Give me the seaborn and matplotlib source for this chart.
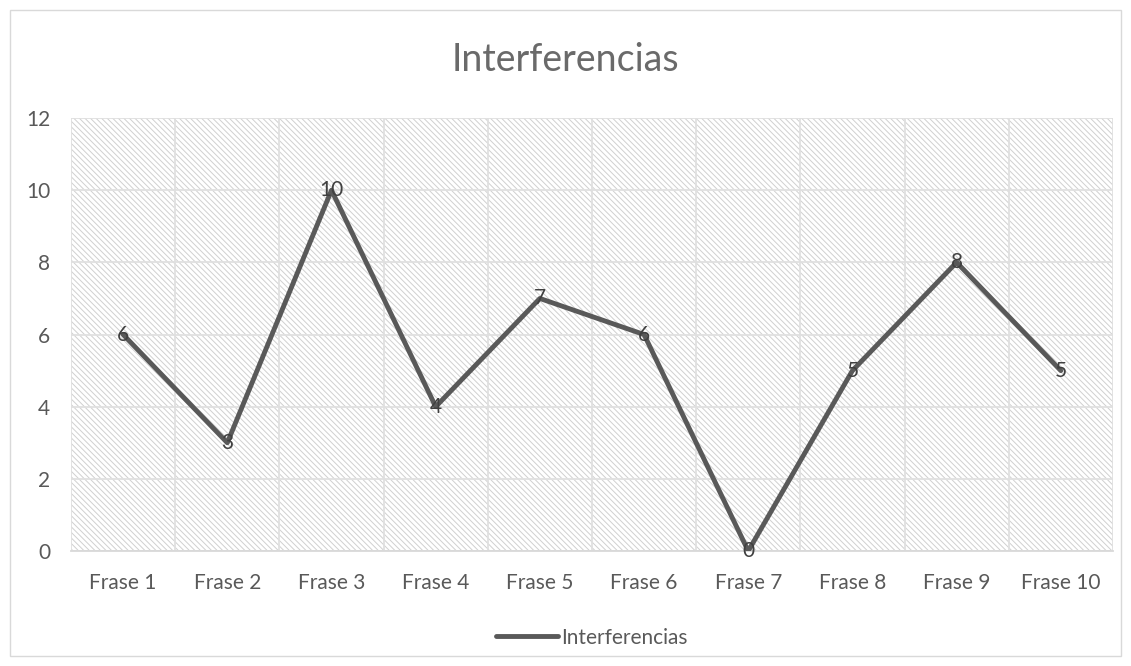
import matplotlib
matplotlib.use("Agg")
import matplotlib.pyplot as plt
import matplotlib.patches as mpatches
import seaborn as sns
import pandas as pd

categories = ["Frase 1", "Frase 2", "Frase 3", "Frase 4", "Frase 5",
              "Frase 6", "Frase 7", "Frase 8", "Frase 9", "Frase 10"]
values = [6, 3, 10, 4, 7, 6, 0, 5, 8, 5]
series_name = "Interferencias"

df = pd.DataFrame({"Frase": categories, "Valor": values, "Serie": series_name})

sns.set_style("white")
plt.rcParams['font.family'] = ['Lato', 'DejaVu Sans']
plt.rcParams['hatch.linewidth'] = 0.7

fig = plt.figure(figsize=(11.31, 6.66), dpi=100)
ax = fig.add_axes([0.0628, 0.1727, 0.9212, 0.65])

# hatched plot area like the Excel pattern fill
ax.patch.set_facecolor("white")
bg = mpatches.Rectangle((0, 0), 1, 1, transform=ax.transAxes, facecolor="white",
                        edgecolor="#d0d0d0", hatch="\\" * 6, linewidth=0, zorder=0)
ax.add_patch(bg)

x = list(range(len(categories)))
sns.lineplot(data=df, x=x, y="Valor", color="#595959", linewidth=3.5,
             label=series_name, ax=ax, zorder=3, sort=False)

for xi, v in zip(x, values):
    ax.text(xi, v, str(v), ha="center", va="center", fontsize=15, color="#404040", zorder=4)

ax.set_xlim(-0.5, len(categories) - 0.5)
ax.set_ylim(0, 12)
ax.set_yticks(range(0, 13, 2))
ax.set_xticks(x)
ax.set_xticklabels(categories)
ax.set_xticks([i + 0.5 for i in range(-1, len(categories))], minor=True)
ax.grid(axis="y", which="major", color="#e0e0e0", linewidth=1.3, zorder=1)
ax.grid(axis="x", which="minor", color="#e0e0e0", linewidth=1.3, zorder=1)
ax.tick_params(axis="both", which="both", length=0, labelsize=15, labelcolor="#595959")
ax.tick_params(axis="x", pad=16)
ax.tick_params(axis="y", pad=15)
ax.set_xlabel("")
ax.set_ylabel("")
for s in ["top", "right", "left"]:
    ax.spines[s].set_visible(False)
ax.spines["bottom"].set_color("#d9d9d9")
ax.spines["bottom"].set_linewidth(1.3)
ax.set_axisbelow(True)

fig.text(0.5, 0.91, "Interferencias", ha="center", va="center", fontsize=27,
         color="#6a6a6a")

leg = ax.legend(loc="center", bbox_to_anchor=(0.5, -0.2), frameon=False,
                fontsize=15, handlelength=3.0, handletextpad=0.15)
for t in leg.get_texts():
    t.set_color("#595959")

border = mpatches.Rectangle((10 / 1131, 10 / 666), 1 - 20 / 1131, 1 - 20 / 666,
                            transform=fig.transFigure, fill=False, edgecolor="#d9d9d9",
                            linewidth=1)
fig.patches.append(border)

fig.savefig("out.png", dpi=100)
